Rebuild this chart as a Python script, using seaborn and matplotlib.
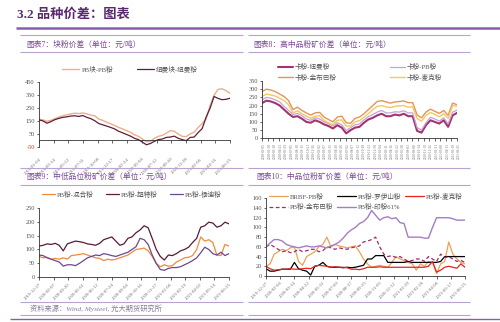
import numpy as np
import pandas as pd
import matplotlib
matplotlib.use('Agg')
import matplotlib.pyplot as plt
import seaborn as sns
from matplotlib.lines import Line2D

sns.set_theme(style='white')
plt.rcParams['font.family'] = ['Liberation Serif', 'Noto Sans CJK SC', 'DejaVu Sans']
plt.rcParams['axes.unicode_minus'] = False

# ---------------- data ----------------
# Chart 7
c7_labels = ['PB块-PB粉', '纽曼块-纽曼粉']
c7_pb = [163, 158, 147, 155, 168, 180, 190, 198, 205, 210, 207, 212, 205, 195, 190, 165, 155, 140, 128, 115,
         100, 88, 75, 62, 42, 30, 10, -12, -8, 15, 30, 38, 55, 75, 70, 48, 30, 28, 50, 62,
         100, 130, 165, 270, 350, 395, 400, 385, 365]
c7_nm = [158, 150, 132, 145, 160, 170, 178, 182, 188, 190, 185, 192, 178, 168, 152, 130, 120, 110, 100, 88,
         70, 58, 45, 32, 15, 5, -15, -35, -25, -8, 5, 10, 22, 25, 32, 15, 5, -3, 22, 25,
         60, 90, 180, 250, 340, 325, 315, 318, 326]
c7_start, c7_end = '2019-01-04', '2021-06-25'

# Chart 8
c8_labels = ['卡粉-纽曼粉', '卡粉-PB粉', '卡粉-金布巴粉', '卡粉-麦克粉']
c8_newman = [215, 230, 225, 215, 200, 175, 150, 130, 135, 120, 100, 95, 110, 100, 85, 75, 60, 80, 65, 30,
             50, 65, 70, 95, 115, 125, 140, 150, 135, 135, 145, 140, 150, 135, 135, 45, 35, 80, 110, 100,
             90, 110, 70, 140, 155]
c8_pb = [235, 250, 245, 235, 222, 195, 170, 145, 152, 138, 118, 110, 125, 118, 100, 90, 75, 95, 82, 48,
         65, 82, 88, 112, 132, 145, 160, 170, 155, 155, 162, 160, 168, 155, 155, 65, 50, 95, 128, 118,
         105, 125, 88, 160, 172]
c8_jinbuba = [285, 300, 295, 285, 270, 255, 230, 175, 190, 170, 155, 142, 155, 158, 130, 115, 100, 130, 135, 95,
              92, 122, 130, 150, 175, 200, 225, 230, 222, 215, 222, 225, 228, 218, 218, 142, 125, 160, 178, 165,
              152, 170, 140, 215, 205]
c8_mac = [255, 270, 265, 258, 245, 230, 205, 155, 168, 150, 135, 122, 135, 138, 110, 95, 82, 110, 112, 75,
          75, 100, 108, 128, 150, 175, 195, 200, 192, 188, 195, 198, 200, 190, 192, 120, 105, 140, 158, 145,
          132, 150, 122, 200, 195]
c8_start, c8_end = '2018-01-05', '2021-06-25'

# Chart 9
c9_labels = ['PB粉-混合粉', 'PB粉-超特粉', 'PB粉-杨迪粉']
c9_hunhe = [75, 70, 72, 65, 68, 65, 70, 65, 78, 80, 82, 85, 80, 75, 70, 68, 60, 65, 62, 65,
            70, 75, 80, 90, 100, 102, 105, 95, 75, 50, 38, 45, 40, 42, 55, 62, 70, 72, 78, 100,
            145, 130, 135, 125, 80, 78, 118, 112]
c9_chaote = [112, 115, 120, 118, 122, 115, 95, 120, 125, 130, 128, 125, 120, 118, 115, 122, 135, 140, 145, 130,
             115, 120, 140, 145, 160, 170, 185, 178, 140, 100, 75, 62, 80, 78, 85, 95, 100, 108, 125, 140,
             180, 185, 198, 195, 180, 185, 198, 192]
c9_yangdi = [80, 78, 70, 65, 60, 55, 40, 45, 45, 42, 50, 60, 70, 75, 80, 78, 85, 82, 78, 75,
             80, 85, 90, 100, 110, 140, 135, 118, 80, 50, 28, 25, 32, 35, 35, 38, 45, 52, 60, 70,
             88, 108, 100, 85, 80, 90, 78, 85]
c9_start, c9_end = '2019-12-27', '2021-06-25'

# Chart 10
c10_labels = ['BRBF-PB粉', 'PB粉-罗伊山粉', 'PB粉-麦克粉', 'PB粉-金布巴粉', 'PB粉-印粉61%']
c10_brbf = [20, 25, 45, 50, 55, 52, 58, 60, 30, 22, 40, 45, 50, 60, 65, 80, 60, 65, 62, 60,
            58, 60, 62, 50, 35, 25, 18, 20, 22, 20, 18, 28, 40, 35, 32, 28, 25, 12, 25, 20,
            30, 28, 5, 25, 30, 70, 45, 35, 28, 25]
c10_roy = [15, 10, 10, 12, 14, 14, 14, 28, 15, 12, 10, 2, 20, 22, 28, 20, 18, 18, 18, 17,
           18, 17, 18, 20, 22, 35, 35, 42, 42, 42, 28, 28, 28, 28, 28, 30, 28, 28, 28, 28,
           28, 28, 28, 30, 40, 40, 40, 40, 40, 40]
c10_mac = [20, 15, 12, 13, 14, 14, 15, 14, 14, 15, 16, 15, 20, 22, 21, 20, 18, 19, 18, 18,
           17, 14, 14, 13, 15, 18, 18, 18, 19, 18, 18, 18, 18, 18, 18, 18, 18, 18, 18, 18,
           20, 30, 8, 12, 18, 20, 18, 16, 25, 18]
c10_jin = [60, 65, 60, 55, 50, 52, 48, 50, 55, 50, 52, 55, 55, 50, 52, 60, 58, 55, 58, 56,
           55, 58, 60, 62, 70, 72, 75, 80, 60, 45, 40, 42, 38, 40, 35, 30, 32, 35, 35, 30,
           40, 35, 30, 45, 38, 40, 35, 30, 32, 28]
c10_yin = [60, 68, 75, 75, 72, 65, 62, 60, 58, 60, 62, 60, 60, 62, 60, 58, 62, 65, 70, 78,
           88, 95, 100, 108, 112, 120, 135, 125, 115, 120, 122, 118, 120, 110, 108, 80, 80, 80, 80, 78,
           78, 100, 120, 120, 120, 120, 118, 115, 115, 115]
c10_start, c10_end = '2019-12-27', '2021-06-25'

# ---------------- figure ----------------
W, H = 500, 322
fig = plt.figure(figsize=(5, 3.22), dpi=100)
fig.patch.set_facecolor('white')

def fx(x):
    return x / W

def fy(y):
    return 1 - y / H

def hline(x0, x1, y, color, lw):
    fig.add_artist(Line2D([fx(x0), fx(x1)], [fy(y), fy(y)], transform=fig.transFigure,
                          color=color, lw=lw, solid_capstyle='butt'))

def add_ax(x0, x1, ytop, ybot):
    return fig.add_axes([fx(x0), fy(ybot), (x1 - x0) / W, (ybot - ytop) / H])

TITLE_C = '#5a2a6e'
PURPLE = '#8a5cb0'
LAV = '#b9a3d0'
HEAD_C = '#7a4796'
TICK_C = '#707070'

# page title
fig.text(fx(17), fy(15), '3.2 品种价差：图表', fontsize=9.5, fontweight='bold', color=TITLE_C,
         ha='left', va='center', family=['Liberation Serif', 'Noto Sans CJK SC'])
hline(16, 500, 27.5, PURPLE, 1.8)

# panel header lines & titles
for (x0, x1) in [(20, 243), (248, 470)]:
    hline(x0, x1, 35, LAV, 0.8)
    hline(x0, x1, 52, LAV, 0.8)
    hline(x0, x1, 168, LAV, 0.8)
    hline(x0, x1, 185, LAV, 0.8)
    hline(x0, x1, 301.5, LAV, 0.8)
hline(20, 243, 315, LAV, 0.8)
hline(248, 470, 315, LAV, 0.8)
hline(10, 500, 318.5, PURPLE, 1.0)

hfs = 5.6
fig.text(fx(26), fy(44.5), '图表7：块粉价差（单位：元/吨）', fontsize=hfs, color=HEAD_C, ha='left', va='center')
fig.text(fx(253), fy(44.5), '图表8：高中品粉矿价差（单位：元/吨）', fontsize=hfs, color=HEAD_C, ha='left', va='center')
fig.text(fx(26), fy(176.5), '图表9：中低品位粉矿价差（单位：元/吨）', fontsize=hfs, color=HEAD_C, ha='left', va='center')
fig.text(fx(256), fy(176.5), '图表10：中品位粉矿价差（单位：元/吨）', fontsize=hfs, color=HEAD_C, ha='left', va='center')
fig.text(fx(30), fy(308.5), '资料来源：Wind, Mysteel, 光大期货研究所', fontsize=5.2, color='#8a7a9a',
         ha='left', va='center', style='italic')


def style_ax(ax, ylim, yticks, dates, n_ticks, rot, tfs, pad=1.5):
    ax.set_ylim(*ylim)
    ax.set_yticks(yticks)
    ax.set_xlim(dates[0], dates[-1])
    tdates = pd.date_range(dates[0], dates[-1], periods=n_ticks)
    ax.set_xticks(tdates)
    ax.set_xticklabels([d.strftime('%Y-%m-%d') for d in tdates], rotation=rot, ha='right',
                       rotation_mode='anchor', fontsize=tfs, color=TICK_C)
    ax.tick_params(axis='y', labelsize=4.6, labelcolor='#555555', length=1.5, width=0.5, pad=1.5)
    ax.tick_params(axis='x', length=2, width=0.5, pad=pad, direction='out', bottom=True)
    ax.tick_params(axis='y', left=True)
    for s in ['top', 'right']:
        ax.spines[s].set_visible(False)
    for s in ['left', 'bottom']:
        ax.spines[s].set_color('#333333')
        ax.spines[s].set_linewidth(0.6)
    ax.set_xlabel('')
    ax.set_ylabel('')
    ax.set_facecolor('none')
    ax.grid(False)


def plot_series(ax, dates, vals, color, lw, ls='-'):
    sns.lineplot(x=dates, y=vals, ax=ax, color=color, lw=lw, linestyle=ls)

# ---------------- Chart 7 ----------------
ax7 = add_ax(39, 230, 82.3, 146.7)
d7 = pd.date_range(c7_start, c7_end, periods=len(c7_pb))
plot_series(ax7, d7, c7_pb, '#efae85', 1.0)
plot_series(ax7, d7, c7_nm, '#5c1e3e', 0.9)
ax7.spines['bottom'].set_position(('data', 0))
style_ax(ax7, (-50, 450), [-50, 50, 150, 250, 350, 450], d7, 14, 45, 3.4, pad=10)
for lab in ax7.get_yticklabels():
    if lab.get_text().startswith('-') or lab.get_text().startswith('−'):
        lab.set_color('#d23a2a')
ax7.legend(ax7.get_lines()[:2], c7_labels, ncol=2, loc='center', bbox_to_anchor=(fx(130), fy(69)),
           bbox_transform=fig.transFigure, frameon=False, fontsize=4.8, handlelength=2.6,
           columnspacing=3.5, handletextpad=0.3, labelcolor='#555555')

# ---------------- Chart 8 ----------------
ax8 = add_ax(262, 457, 81, 138.3)
d8 = pd.date_range(c8_start, c8_end, periods=len(c8_newman))
plot_series(ax8, d8, c8_newman, '#a3346f', 1.5)
plot_series(ax8, d8, c8_pb, '#c7a0dc', 0.9)
plot_series(ax8, d8, c8_jinbuba, '#e3945a', 1.0)
plot_series(ax8, d8, c8_mac, '#f3c95c', 1.0)
style_ax(ax8, (0, 350), list(range(0, 351, 50)), d8, 36, 90, 2.4)
L8 = ax8.get_lines()[:4]
o8 = [0, 2, 1, 3]
ax8.legend([L8[i] for i in o8], [c8_labels[i] for i in o8], ncol=2, loc='center',
           bbox_to_anchor=(fx(360), fy(71.7)),
           bbox_transform=fig.transFigure, frameon=False, fontsize=4.8, handlelength=2.2,
           columnspacing=8.0, handletextpad=0.3, labelspacing=0.55, labelcolor='#555555')

# ---------------- Chart 9 ----------------
ax9 = add_ax(39, 229, 207.7, 277.3)
d9 = pd.date_range(c9_start, c9_end, periods=len(c9_hunhe))
plot_series(ax9, d9, c9_hunhe, '#f08a3c', 0.9)
plot_series(ax9, d9, c9_chaote, '#5a1a38', 0.9)
plot_series(ax9, d9, c9_yangdi, '#6c4790', 0.9)
style_ax(ax9, (0, 250), [0, 50, 100, 150, 200, 250], d9, 14, 45, 3.4)
ax9.legend(ax9.get_lines()[:3], c9_labels, ncol=3, loc='center', bbox_to_anchor=(fx(132), fy(194)),
           bbox_transform=fig.transFigure, frameon=False, fontsize=4.8, handlelength=1.9,
           columnspacing=1.9, handletextpad=0.3, labelcolor='#555555')

# ---------------- Chart 10 ----------------
ax10 = add_ax(266, 465, 198.3, 276)
d10 = pd.date_range(c10_start, c10_end, periods=len(c10_brbf))
plot_series(ax10, d10, c10_brbf, '#f0a055', 0.9)
plot_series(ax10, d10, c10_roy, '#000000', 0.9)
plot_series(ax10, d10, c10_mac, '#e8231f', 0.9)
plot_series(ax10, d10, c10_jin, '#a02a6a', 0.9, ls=(0, (3, 2)))
plot_series(ax10, d10, c10_yin, '#a57cc8', 1.0)
style_ax(ax10, (0, 160), list(range(0, 161, 20)), d10, 15, 45, 3.4)
L = ax10.get_lines()[:5]
order = [0, 3, 1, 4, 2]
ax10.legend([L[i] for i in order], [c10_labels[i] for i in order], ncol=3, loc='center',
            bbox_to_anchor=(fx(366), fy(201.5)), bbox_transform=fig.transFigure, frameon=False,
            fontsize=4.8, handlelength=2.8, columnspacing=0.6, handletextpad=0.3,
            labelspacing=0.55, labelcolor='#555555')

fig.savefig('out.png', dpi=100, facecolor='white')
